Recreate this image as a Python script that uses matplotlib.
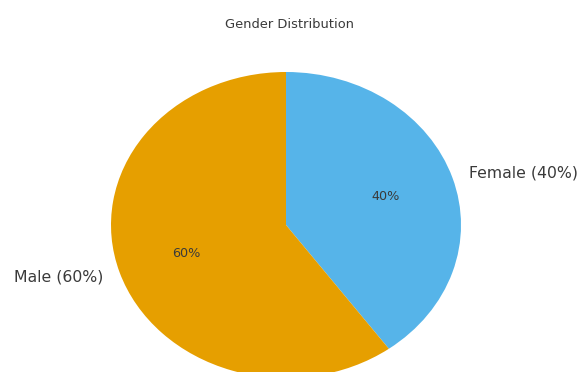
import matplotlib
matplotlib.use('Agg')
import matplotlib.pyplot as plt

plt.rcParams['font.family'] = ['DejaVu Sans']

genders = ["Female", "Male"]
shares = [40, 60]
colors = ["#56B4E9", "#E69F00"]

labels = ["%s (%d%%)" % (g, s) for g, s in zip(genders, shares)]

fig = plt.figure(figsize=(5.79, 3.72), dpi=100)
ax = fig.add_axes([0, 0, 1, 1])

wedges, texts, autotexts = ax.pie(shares, labels=labels, colors=colors,
                                  autopct="%1.0f%%", startangle=90,
                                  counterclock=False, labeldistance=1.1,
                                  pctdistance=0.6,
                                  textprops={"color": "#3a3a3a"})
for t in texts:
    t.set_fontsize(11.3)
for t in autotexts:
    t.set_fontsize(9.2)

# pie is a bit wider than tall, and runs off the bottom edge
ax.set_aspect('auto')
ax.set_xlim(-286 / 175.0, 293 / 175.0)
ax.set_ylim(-147 / 153.0, 225 / 153.0)
ax.axis('off')

fig.text(0.5, 1 - 25 / 372.0, "Gender Distribution", ha="center", va="center",
         fontsize=9.4, color="#3a3a3a")

fig.savefig("out.png", dpi=100)
